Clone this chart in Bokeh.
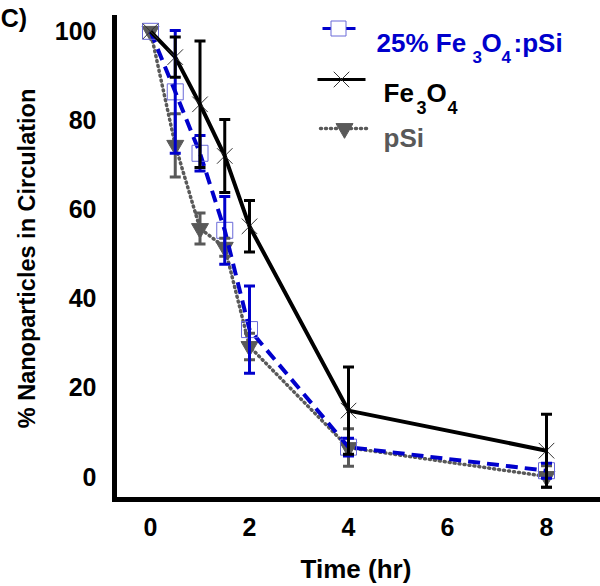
from bokeh.plotting import figure
from bokeh.models import ColumnDataSource, Whisker, TeeHead, Label, FixedTicker, Range1d
from bokeh.embed import file_html
from bokeh.resources import INLINE

# ---- data ----
time_hr = [0, 0.5, 1, 1.5, 2, 4, 8]
fe3o4 = [100, 94.2, 83.6, 72.0, 56.2, 14.8, 5.8]
fe3o4_err = [0, 4.5, 14.2, 8.2, 5.8, 9.8, 8.2]
mix25 = [100, 86.4, 72.6, 55.3, 33.0, 6.6, 1.3]
mix25_err = [0, 13.8, 4.0, 7.6, 9.8, 2.0, 1.7]
psi = [100, 74.4, 55.7, 51.5, 29.2, 6.5, 0.0]
psi_err = [0, 7.1, 3.5, 2.0, 3.0, 4.2, 2.4]

x_ticks = [0, 2, 4, 6, 8]
y_ticks = [0, 20, 40, 60, 80, 100]
panel_tag = "C)"

BLUE = "#0000cc"
GREY = "#595959"
BLACK = "#000000"
FONT = "Liberation Sans"

# pixel -> data helpers (layout only)
def dx(sx):
    return (sx - 150) / 49.5

def dy(sy):
    return (476 - sy) / 4.452

p = figure(width=600, height=586, output_backend="svg", toolbar_location=None,
           x_range=Range1d(dx(114), dx(597)), y_range=Range1d(dy(499), dy(17)),
           min_border_left=114, min_border_right=3, min_border_top=17, min_border_bottom=87)
p.outline_line_color = None
p.xgrid.visible = False
p.ygrid.visible = False
p.background_fill_color = "white"

for ax in (p.xaxis[0], p.yaxis[0]):
    ax.axis_line_width = 5
    ax.axis_line_color = BLACK
    ax.axis_line_cap = "square"
    ax.major_tick_line_color = None
    ax.minor_tick_line_color = None
    ax.major_label_text_font = FONT
    ax.major_label_text_font_style = "bold"
    ax.major_label_text_font_size = "25px"
    ax.major_label_text_color = BLACK
    ax.axis_label_text_font = FONT
    ax.axis_label_text_font_style = "bold"
    ax.axis_label_text_color = BLACK

p.xaxis.ticker = FixedTicker(ticks=x_ticks)
p.xaxis.major_label_standoff = 12
p.xaxis.axis_label = "Time (hr)"
p.xaxis.axis_label_text_font_size = "26px"
p.xaxis.axis_label_standoff = 15

p.yaxis.major_label_standoff = 12
p.yaxis.axis_label = "% Nanoparticles in Circulation"
p.yaxis.axis_label_text_font_size = "23.5px"

# panel tag "C)" sits in the top-left corner, in the y-axis label column
tag_pos = 103
p.yaxis.ticker = FixedTicker(ticks=y_ticks + [tag_pos])
try:
    p.yaxis.major_label_overrides = {tag_pos: panel_tag + "\u00a0" * 10}
    p.yaxis.axis_label_standoff = -42
except Exception:
    p.yaxis.major_label_overrides = {tag_pos: panel_tag + "\u00a0" * 4}
    p.yaxis.axis_label_standoff = 13


def add_errors(ys, errs, color):
    xs = [t for t, e in zip(time_hr, errs) if e > 0]
    up = [y + e for y, e in zip(ys, errs) if e > 0]
    lo = [y - e for y, e in zip(ys, errs) if e > 0]
    src = ColumnDataSource(dict(x=xs, upper=up, lower=lo))
    w = Whisker(source=src, base="x", upper="upper", lower="lower",
                line_color=color, line_width=3, level="glyph",
                upper_head=TeeHead(size=11, line_color=color, line_width=3),
                lower_head=TeeHead(size=11, line_color=color, line_width=3))
    p.add_layout(w)


# pSi (grey dotted, inverted triangles)
p.line(time_hr, psi, line_color=GREY, line_width=3.5, line_dash="1 4", line_cap="round")
add_errors(psi, psi_err, GREY)
p.scatter(time_hr, psi, marker="inverted_triangle", size=17, fill_color=GREY, line_color=GREY)

# 25% Fe3O4:pSi (blue dashed, open squares)
p.line(time_hr, mix25, line_color=BLUE, line_width=4, line_dash="12 7")
add_errors(mix25, mix25_err, BLUE)
p.scatter(time_hr, mix25, marker="square", size=16, fill_color=None, line_color="#6a6ad8", line_width=1)

# Fe3O4 (black solid, x markers)
p.line(time_hr, fe3o4, line_color=BLACK, line_width=4)
add_errors(fe3o4, fe3o4_err, BLACK)
p.scatter(time_hr, fe3o4, marker="x", size=22, line_color="#333333", line_width=1)

# ---- manual legend ----
p.line([dx(322), dx(355)], [dy(28), dy(28)], line_color=BLUE, line_width=3)
p.scatter([dx(338)], [dy(28)], marker="square", size=15, fill_color="white", line_color="#6a6ad8", line_width=1)
p.line([dx(317), dx(365)], [dy(79), dy(79)], line_color=BLACK, line_width=3)
p.scatter([dx(341)], [dy(79)], marker="x", size=22, line_color="#333333", line_width=1)
p.line([dx(320), dx(368)], [dy(128), dy(128)], line_color=GREY, line_width=3.5, line_dash="1 4", line_cap="round")
p.scatter([dx(344)], [dy(128)], marker="inverted_triangle", size=17, fill_color=GREY, line_color=GREY)


def lab(sx, sy, text, color, size="26px"):
    p.add_layout(Label(x=dx(sx), y=dy(sy), text=text, text_font=FONT, text_font_style="bold",
                       text_font_size=size, text_color=color, text_align="left",
                       text_baseline="alphabetic"))


lab(376, 42, "25% Fe", BLUE)
lab(472, 56, "3", BLUE, "17px")
lab(481, 42, "O", BLUE)
lab(501, 56, "4", BLUE, "17px")
lab(513, 42, ":pSi", BLUE)

lab(383, 92, "Fe", BLACK)
lab(416, 107, "3", BLACK, "18px")
lab(426, 92, "O", BLACK)
lab(447, 107, "4", BLACK, "18px")

lab(383, 137, "pSi", GREY)

open("out.html", "w").write(file_html(p, INLINE))
